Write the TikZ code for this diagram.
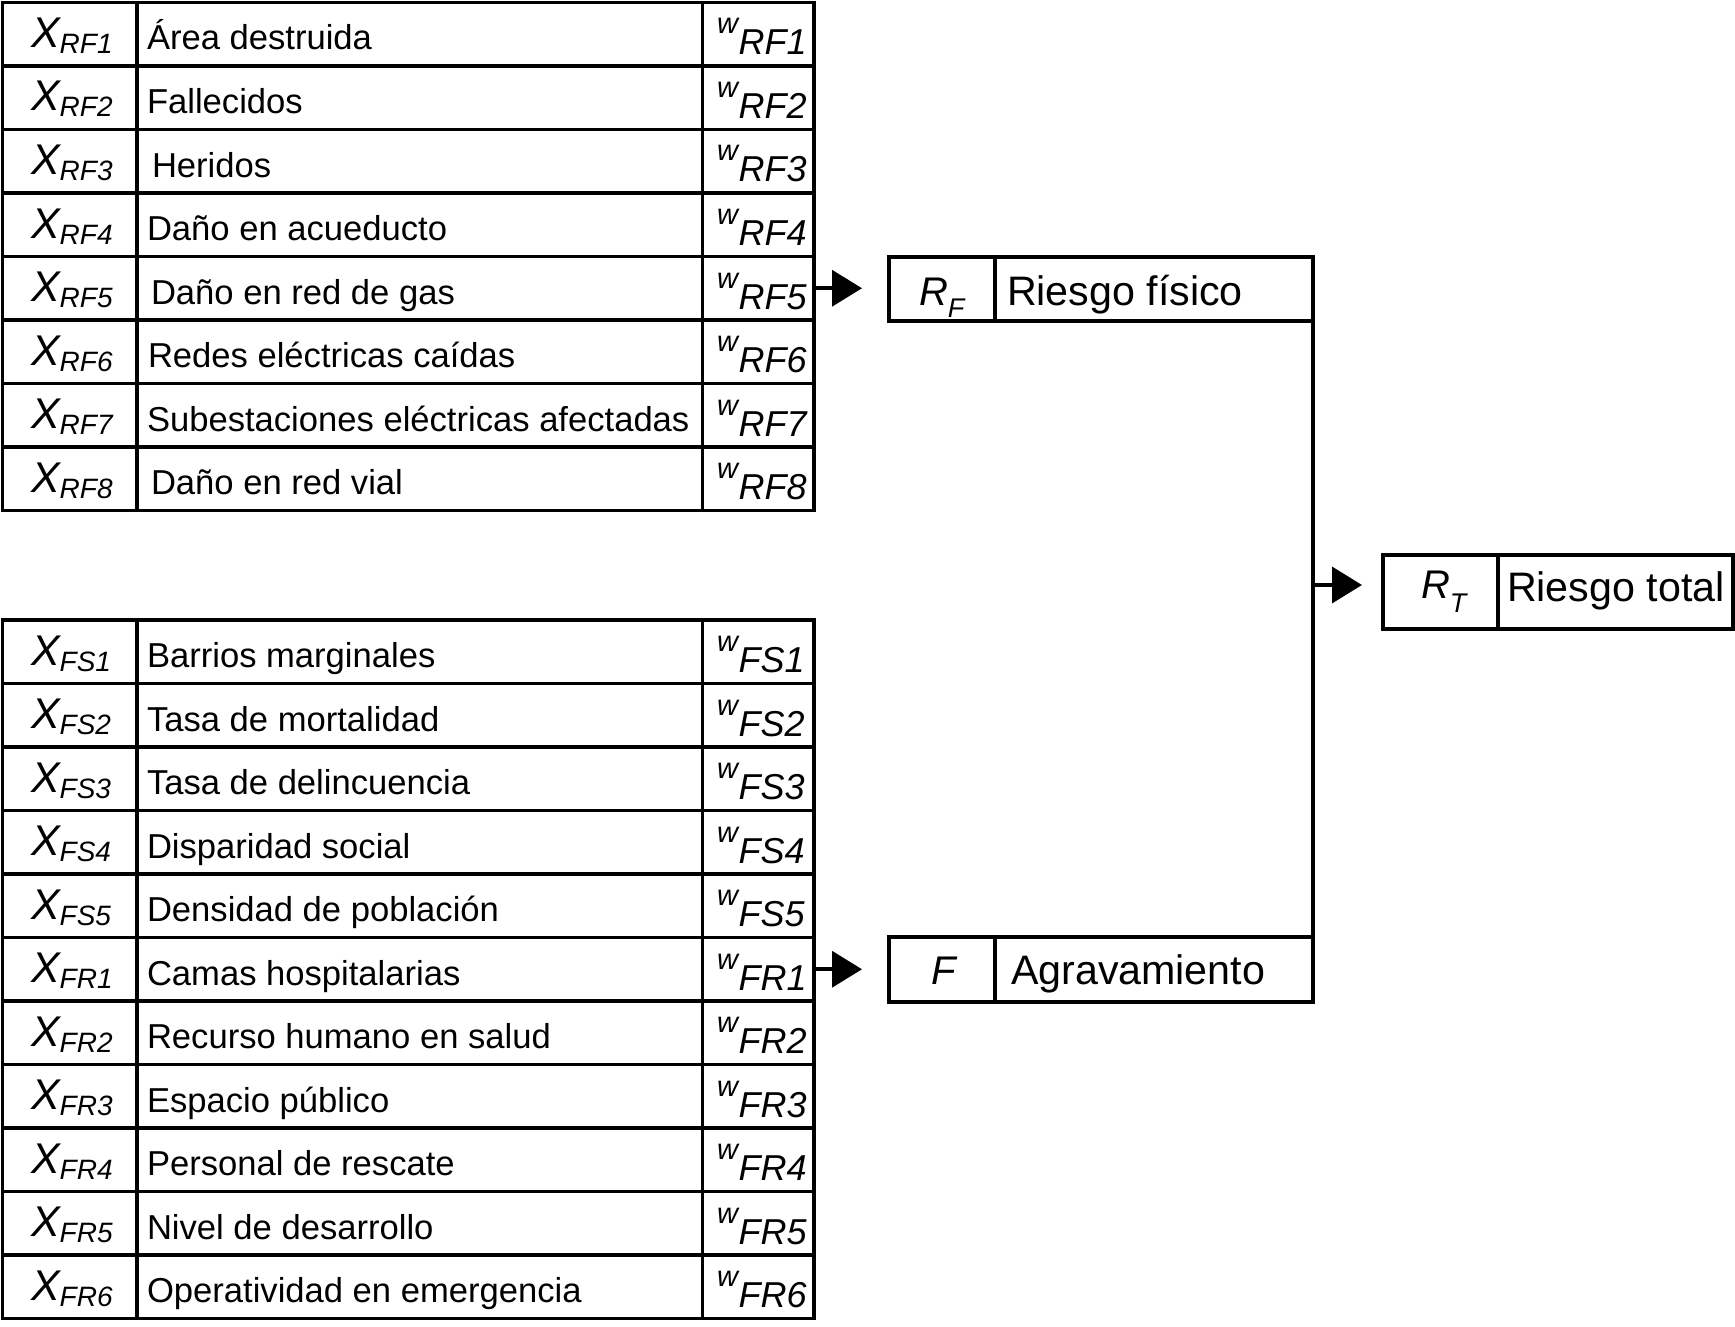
\documentclass[tikz,border=0pt]{standalone}
\usepackage{fontspec}
\setmainfont{Liberation Sans}
\usetikzlibrary{arrows.meta}
\newcommand\Xlab[1]{{\fontsize{21.5}{21.5}\selectfont\itshape X}\kern-0.5pt\raisebox{-3pt}{\fontsize{14}{14}\selectfont\itshape #1}}
\newcommand\Wlab[1]{\raisebox{10.5pt}{\fontsize{14.5}{14.5}\selectfont\itshape w}\kern0.3pt{\fontsize{18}{18}\selectfont\itshape #1}}
\newcommand\Tsz{\fontsize{17.3}{17.3}\selectfont}
\newcommand\Bsz{\fontsize{20.6}{20.6}\selectfont}
\begin{document}
\begin{tikzpicture}[x=0.5pt,y=-0.5pt,
  box/.style={draw, line width=1.8pt, inner sep=0pt, outer sep=0pt, anchor=north west},
  xc/.style={box, minimum width=67.25pt, minimum height=31.75pt},
  dc/.style={box, minimum width=282.75pt, minimum height=31.75pt},
  wc/.style={box, minimum width=55.75pt, minimum height=31.75pt},
  lab/.style={inner sep=0pt, outer sep=0pt, anchor=base west},
  arr/.style={line width=1.8pt, -{Triangle[length=15pt,width=18pt]}}]
\useasboundingbox (0,0) rectangle (1735,1327);
% upper table
\foreach \i/\s/\t/\d in {1/RF1/{Área destruida}/0, 2/RF2/{Fallecidos}/0, 3/RF3/{Heridos}/5,
  4/RF4/{Daño en acueducto}/0, 5/RF5/{Daño en red de gas}/4, 6/RF6/{Redes eléctricas caídas}/1,
  7/RF7/{Subestaciones eléctricas afectadas}/0, 8/RF8/{Daño en red vial}/4}{
  \pgfmathsetmacro\yy{2.5+(\i-1)*63.5}
  \node[xc] (xa\i) at (2.5,\yy) {};
  \node[dc] (da\i) at (137,\yy) {};
  \node[wc] (wa\i) at (702.5,\yy) {};
  \node[lab] at ([shift={(29.5,45)}]xa\i.north west) {\Xlab{\s}};
  \node[lab] at ([shift={(10+\d,47.5)}]da\i.north west) {\Tsz\t};
  \node[lab] at ([shift={(14.5,52.5)}]wa\i.north west) {\Wlab{\s}};
}
% lower table
\foreach \i/\s/\t in {1/FS1/{Barrios marginales}, 2/FS2/{Tasa de mortalidad}, 3/FS3/{Tasa de delincuencia},
  4/FS4/{Disparidad social}, 5/FS5/{Densidad de población}, 6/FR1/{Camas hospitalarias},
  7/FR2/{Recurso humano en salud}, 8/FR3/{Espacio público}, 9/FR4/{Personal de rescate},
  10/FR5/{Nivel de desarrollo}, 11/FR6/{Operatividad en emergencia}}{
  \pgfmathsetmacro\yy{620+(\i-1)*63.5}
  \node[xc] (xb\i) at (2.5,\yy) {};
  \node[dc] (db\i) at (137,\yy) {};
  \node[wc] (wb\i) at (702.5,\yy) {};
  \node[lab] at ([shift={(29.5,45)}]xb\i.north west) {\Xlab{\s}};
  \node[lab] at ([shift={(10,47.5)}]db\i.north west) {\Tsz\t};
  \node[lab] at ([shift={(14.5,52.5)}]wb\i.north west) {\Wlab{\s}};
}
% R_F box
\node[box, minimum width=53pt, minimum height=32pt] (rfs) at (889,257) {};
\node[box, minimum width=159pt, minimum height=32pt] (rfn) at (995,257) {};
\node[lab] at (919,305) {{\fontsize{20}{20}\selectfont\itshape R}\raisebox{-6pt}{\fontsize{13.5}{13.5}\selectfont\itshape F}};
\node[lab] at (1007,305) {\Bsz Riesgo físico};
% F box
\node[box, minimum width=53pt, minimum height=32.5pt] (fs) at (889,937) {};
\node[box, minimum width=159pt, minimum height=32.5pt] (fn) at (995,937) {};
\node[lab] at (931,984) {{\fontsize{20}{20}\selectfont\itshape F}};
\node[lab] at (1011,984) {\Bsz Agravamiento};
% R_T box
\node[box, minimum width=57.5pt, minimum height=37pt] (rts) at (1383,555) {};
\node[box, minimum width=117.5pt, minimum height=37pt] (rtn) at (1498,555) {};
\node[lab] at (1421,598) {{\fontsize{20}{20}\selectfont\itshape R}\raisebox{-7pt}{\fontsize{13.5}{13.5}\selectfont\itshape T}};
\node[lab] at (1507,601) {\Bsz Riesgo total};
% connectors
\draw[arr, shorten >=13.5pt] (wa5.east) -- (wa5.east -| rfs.west);
\draw[arr, shorten >=13.5pt] (wb6.east) -- (wb6.east -| fs.west);
\draw[line width=1.8pt] (rfn.south east) -- (fn.north east);
\coordinate (j) at (1313,585);
\draw[arr, shorten >=10.5pt] (j) -- (j -| rts.west);
\end{tikzpicture}
\end{document}
